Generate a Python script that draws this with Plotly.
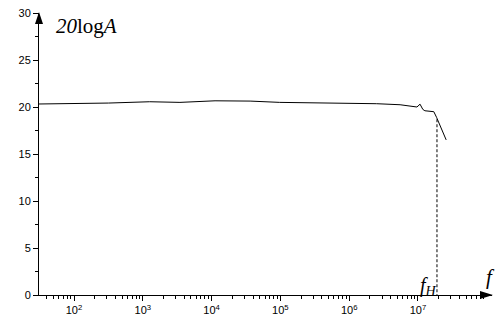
import numpy as np
import plotly.graph_objects as go

# Frequency response data
log_f = [1.49, 2.0, 2.5, 3.10, 3.54, 4.05, 4.56, 4.99, 5.5, 6.01, 6.4, 6.74,
         6.985, 7.03, 7.07, 7.10, 7.23, 7.27, 7.30, 7.33, 7.37, 7.41]
gain_db = [20.32, 20.35, 20.42, 20.56, 20.49, 20.66, 20.63, 20.49, 20.45, 20.42, 20.35, 20.24,
           20.0, 20.3, 19.75, 19.6, 19.5, 18.9, 18.4, 18.0, 17.3, 16.5]
freq = [10 ** v for v in log_f]

f_H = 10 ** 7.276
f_H_gain = 18.7

x_tickvals = [1e2, 1e3, 1e4, 1e5, 1e6, 1e7]
x_ticktext = ["10<sup>2</sup>", "10<sup>3</sup>", "10<sup>4</sup>",
              "10<sup>5</sup>", "10<sup>6</sup>", "10<sup>7</sup>"]
y_tickvals = [0, 5, 10, 15, 20, 25, 30]

minor_x = [m * 10 ** d for d in range(1, 8) for m in range(2, 10)]

fig = go.Figure()
fig.add_trace(go.Scatter(x=freq, y=gain_db, mode="lines",
                         line=dict(color="black", width=1), showlegend=False))
fig.add_trace(go.Scatter(x=[f_H, f_H], y=[f_H_gain, 0], mode="lines",
                         line=dict(color="black", width=1, dash="3px,2px"), showlegend=False))

W, H = 498, 322
L, R, T, B = 39, 6, 13, 24
pw, ph = W - L - R, H - T - B


def px(x):
    return (x - L) / pw


def py(y):
    return (H - B - y) / ph


tick_font = dict(family="Liberation Sans, Arial", size=11, color="black")

fig.update_layout(
    width=W, height=H,
    margin=dict(l=L, r=R, t=T, b=B, pad=0),
    paper_bgcolor="white", plot_bgcolor="white",
    xaxis=dict(type="log", range=[1.491, 8.076],
               tickmode="array", tickvals=x_tickvals, ticktext=x_ticktext,
               ticks="outside", ticklen=5, tickwidth=1, tickcolor="black",
               showline=True, linecolor="black", linewidth=1,
               showgrid=False, zeroline=False, tickfont=tick_font,
               minor=dict(tickmode="array", tickvals=minor_x, ticks="outside",
                          ticklen=3, tickwidth=1, tickcolor="black", showgrid=False)),
    yaxis=dict(range=[0, 30], tickmode="array", tickvals=y_tickvals,
               ticks="outside", ticklen=5, tickwidth=1, tickcolor="black",
               showline=True, linecolor="black", linewidth=1,
               showgrid=False, zeroline=False, tickfont=tick_font,
               minor=dict(dtick=2.5, tick0=0, ticks="outside", ticklen=3,
                          tickwidth=1, tickcolor="black", showgrid=False)),
)

# Axis arrow heads
fig.add_shape(type="path", xref="paper", yref="paper",
              path=f"M {px(39)},{py(12)} L {px(35)},{py(24)} L {px(43)},{py(24)} Z",
              fillcolor="black", line=dict(color="black", width=0))
fig.add_shape(type="path", xref="paper", yref="paper",
              path=f"M {px(493)},{py(298)} L {px(480)},{py(294)} L {px(480)},{py(302)} Z",
              fillcolor="black", line=dict(color="black", width=0))

serif = "Liberation Serif, Times New Roman"
fig.add_annotation(x=px(54), y=py(26), xref="paper", yref="paper", xanchor="left", yanchor="middle",
                   text="<i>20</i>log<i>A</i>", showarrow=False,
                   font=dict(family=serif, size=21, color="black"))
fig.add_annotation(x=px(418), y=py(289), xref="paper", yref="paper", xanchor="left", yanchor="middle",
                   text="<i>f</i><sub><i>H</i></sub>", showarrow=False,
                   font=dict(family=serif, size=20, color="black"))
fig.add_annotation(x=px(490), y=py(280), xref="paper", yref="paper", xanchor="center", yanchor="middle",
                   text="<i>f</i>", showarrow=False,
                   font=dict(family=serif, size=21, color="black"))

fig.write_html("out.html")
